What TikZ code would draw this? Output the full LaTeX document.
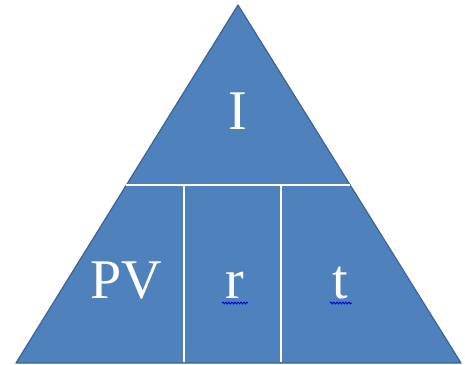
\documentclass[tikz,border=0pt]{standalone}
\usepackage{fontspec}
\setmainfont{Liberation Serif}
\usetikzlibrary{calc,decorations.pathmorphing}
\definecolor{triblue}{HTML}{4F81BD}
\definecolor{triedge}{HTML}{3A6496}

\begin{document}
\begin{tikzpicture}[x=1pt,y=-1pt,
  lbl/.style={white,anchor=base,inner sep=0pt,font=\fontsize{56}{60}\selectfont},
  divider/.style={white,line width=2.6pt},
  squiggle/.style={blue!85!black,line width=0.9pt,decorate,
    decoration={snake,amplitude=0.9pt,segment length=3pt}}]
\path[use as bounding box] (0,0) rectangle (465,364);
\coordinate (apex) at (238,5);
\coordinate (bl) at (16,363);
\coordinate (br) at (461,363);
\fill[triblue] (apex) -- (bl) -- (br) -- cycle;
\draw[triedge,line width=1.2pt,line join=round] (apex) -- (bl) -- (br) -- cycle;
% dividing lines
\coordinate (ml) at ($(apex)!0.503!(bl)$);
\coordinate (mr) at ($(apex)!0.503!(br)$);
\coordinate (d1t) at (184,185);
\coordinate (d1b) at (184,362);
\coordinate (d2t) at (281,185);
\coordinate (d2b) at (281,362);
\draw[divider] (ml) -- (mr);
\draw[divider] (d1t) -- (d1b);
\draw[divider] (d2t) -- (d2b);
% labels
\node[lbl] (i) at (238,129) {I};
\node[lbl] (pv) at (126,298) {PV};
\node[lbl] (r) at (235,298) {r};
\node[lbl] (t) at (340,298) {t};
\draw[squiggle] ($(r.base)+(-13,5)$) -- ($(r.base)+(13,5)$);
\draw[squiggle] ($(t.base)+(-10,5)$) -- ($(t.base)+(12,5)$);
\end{tikzpicture}
\end{document}
